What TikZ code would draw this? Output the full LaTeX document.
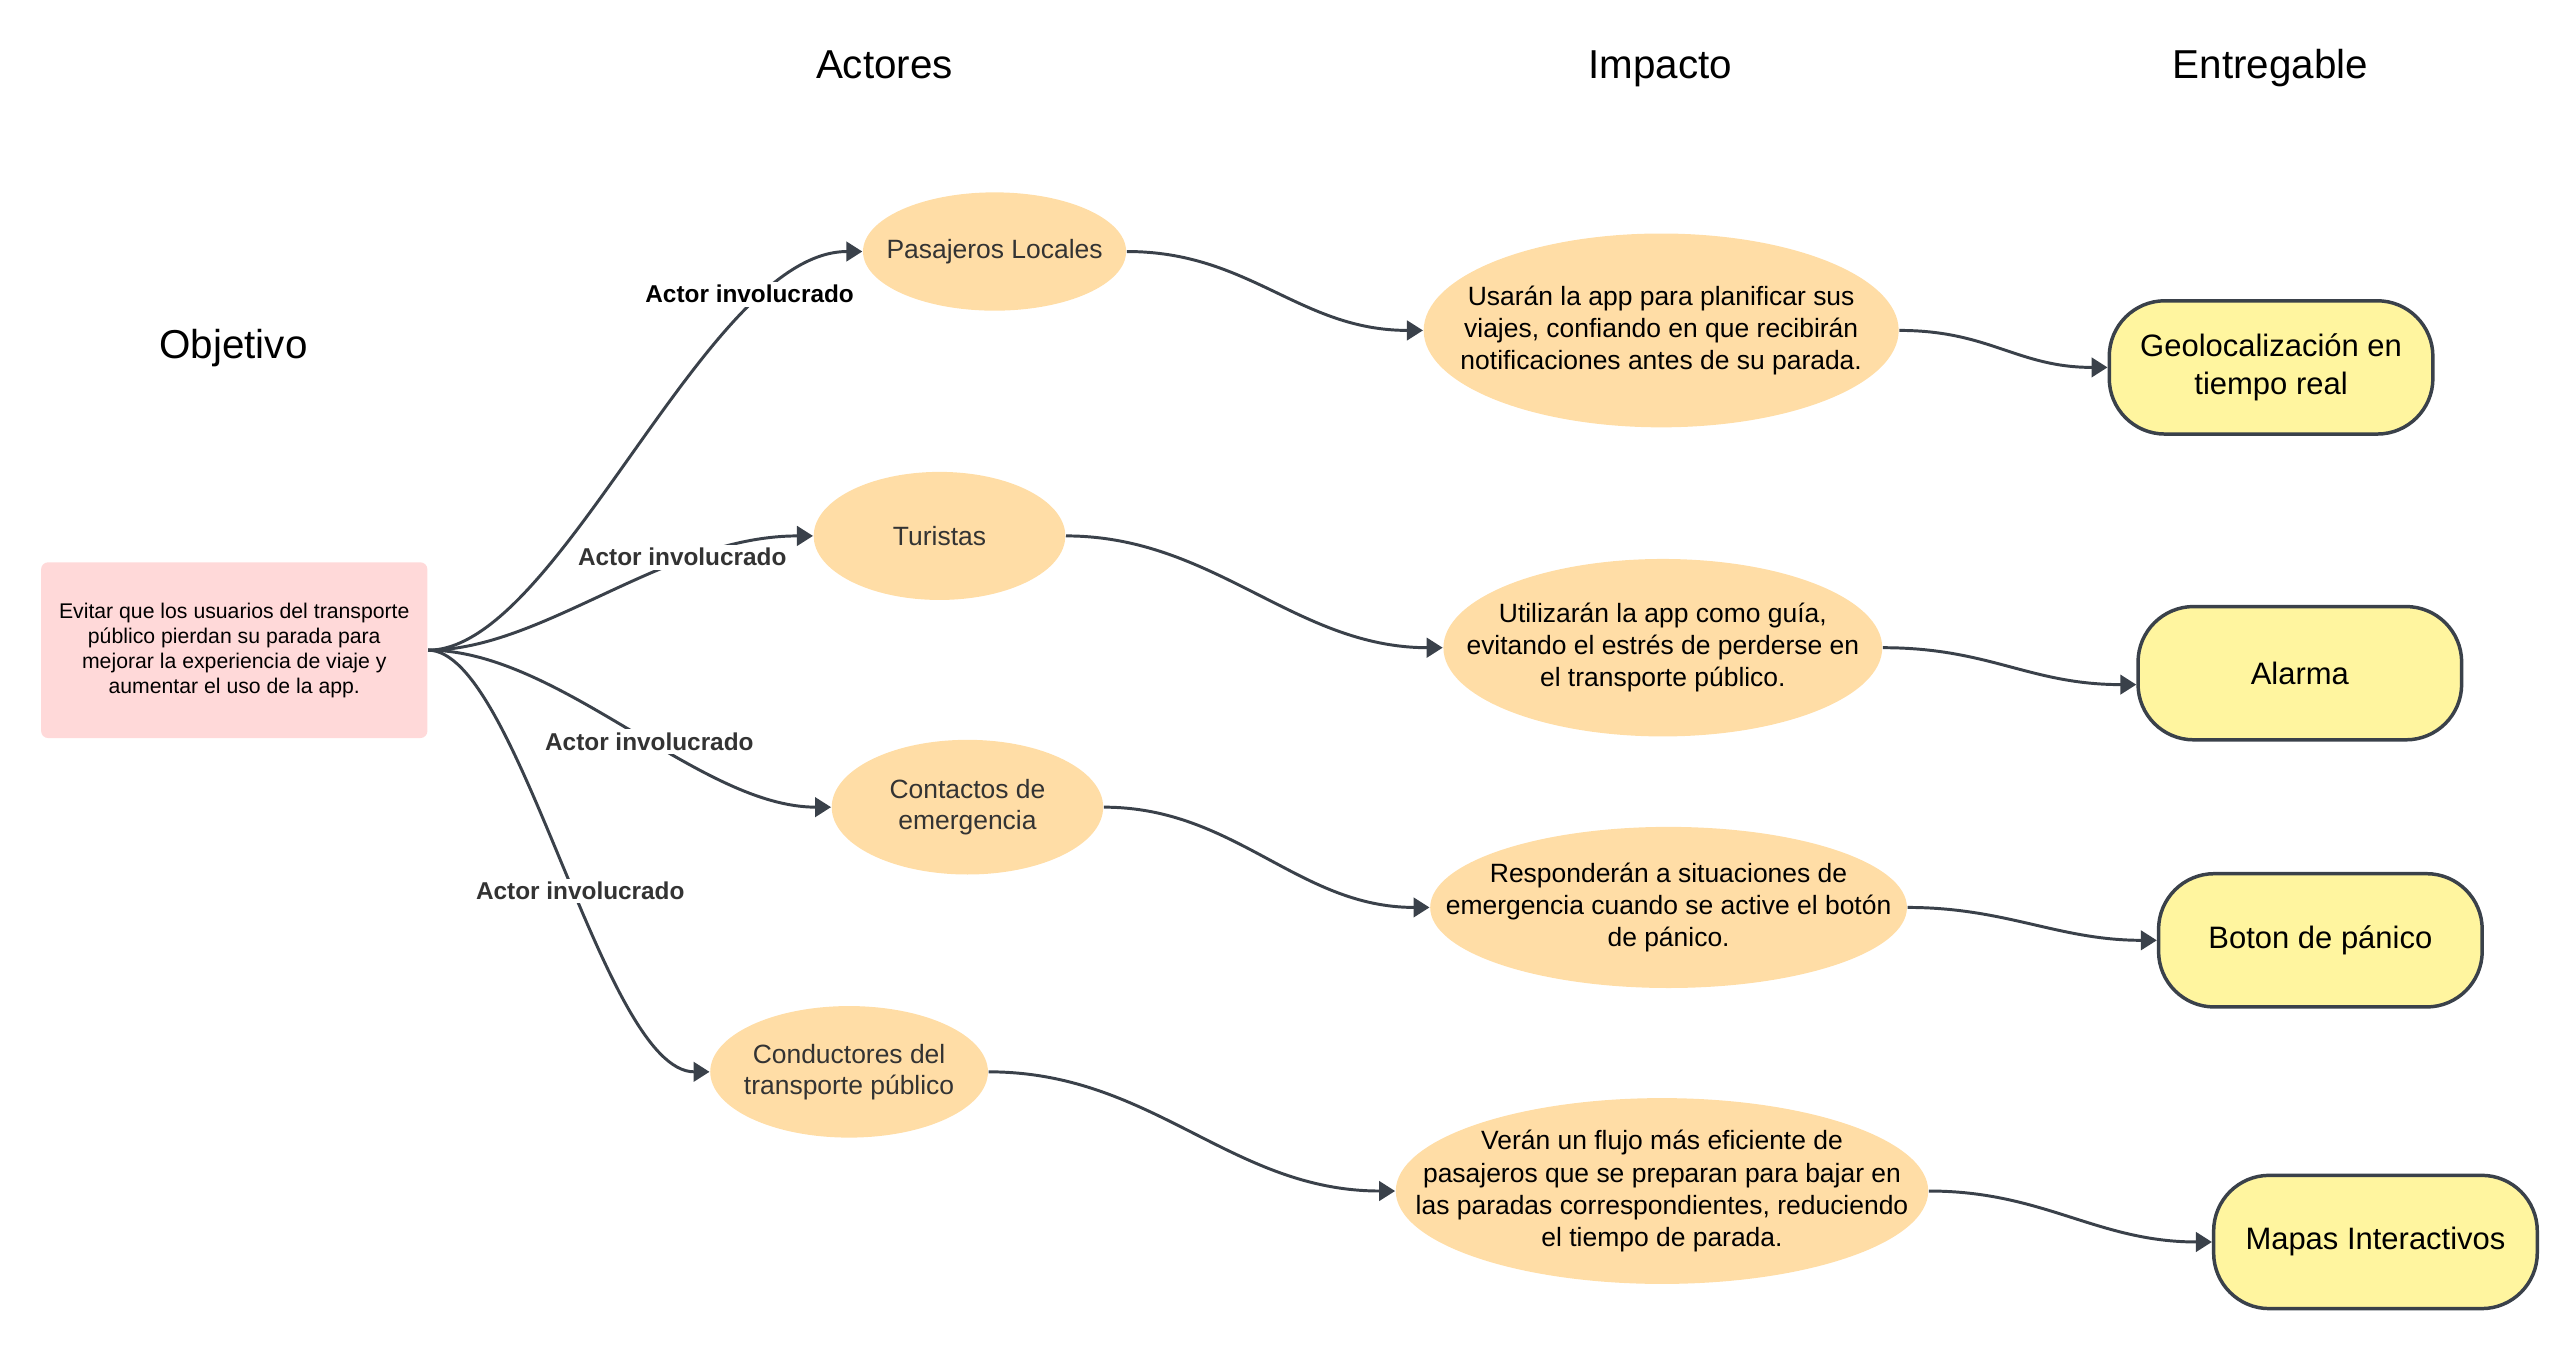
\documentclass[tikz,border=0pt]{standalone}
\usepackage{fontspec}
\setmainfont{Liberation Sans}
\usetikzlibrary{shapes.geometric,arrows.meta}

\definecolor{peach}{HTML}{FFDDA6}
\definecolor{lemon}{HTML}{FFF59F}
\definecolor{rosa}{HTML}{FFD9D9}
\definecolor{ink}{HTML}{3A414A}
\definecolor{txt}{HTML}{333333}

\begin{document}
\begin{tikzpicture}[x=0.4724pt,y=-0.4724pt,>={Triangle[length=4.6pt,width=5.6pt]},
  titulo/.style={anchor=base,font=\fontsize{11.6}{14}\selectfont},
  objetivo/.style={fill=rosa,rounded corners=2pt,minimum width=111pt,
    minimum height=50.5pt,align=center,inner sep=0pt,
    font=\fontsize{6.1}{7.2}\selectfont},
  % negative inner sep: the minimum sizes fix the ellipses
  actor/.style={ellipse,fill=peach,inner xsep=-25pt,inner ysep=-12pt,
    align=center,text=txt,font=\fontsize{7.6}{9}\selectfont},
  impacto/.style={ellipse,fill=peach,inner xsep=-25pt,inner ysep=-12pt,
    align=center,font=\fontsize{7.6}{9.2}\selectfont},
  entregable/.style={draw=ink,line width=1pt,fill=lemon,rounded corners=16pt,
    minimum width=93pt,minimum height=38.3pt,align=center,
    font=\fontsize{8.9}{10.9}\selectfont},
  lbl/.style={fill=white,inner sep=1pt,text=txt,
    font=\bfseries\fontsize{7}{8}\selectfont},
  conn/.style={->,draw=ink,line width=0.85pt}
]
  \useasboundingbox (0,0) rectangle (1567,820.6);

  % column titles (placed on their baselines)
  \node[titulo] (tObj) at (142,218) {Objetivo};
  \node[titulo] (tAct) at (538,48) {Actores};
  \node[titulo] (tImp) at (1010,48) {Impacto};
  \node[titulo] (tEnt) at (1381,48) {Entregable};

  % objective
  \node[objetivo] (obj) at (142.5,395.5) {Evitar que los usuarios del transporte\\
    público pierdan su parada para\\ mejorar la experiencia de viaje y\\
    aumentar el uso de la app.};

  % actors
  \node[actor,minimum width=75.6pt,minimum height=34pt] (a1) at (605,153)
    {Pasajeros Locales};
  \node[actor,minimum width=72.3pt,minimum height=36.8pt] (a2) at (571.5,326)
    {Turistas};
  \node[actor,minimum width=78pt,minimum height=38.7pt] (a3) at (588.5,491)
    {Contactos de\\ emergencia};
  \node[actor,minimum width=79.8pt,minimum height=37.8pt] (a4) at (516.5,652)
    {Conductores del\\ transporte público};

  % impact
  \node[impacto,minimum width=136.5pt,minimum height=55.7pt] (i1) at (1010.5,201)
    {Usarán la app para planificar sus\\ viajes, confiando en que recibirán\\
     notificaciones antes de su parada.};
  \node[impacto,minimum width=126.1pt,minimum height=51pt] (i2) at (1011.5,394)
    {Utilizarán la app como guía,\\ evitando el estrés de perderse en\\
     el transporte público.};
  \node[impacto,minimum width=137pt,minimum height=46.3pt] (i3) at (1015,552)
    {Responderán a situaciones de\\ emergencia cuando se active el botón\\
     de pánico.};
  \node[impacto,minimum width=153pt,minimum height=53.4pt] (i4) at (1011,724.5)
    {Verán un flujo más eficiente de\\ pasajeros que se preparan para bajar en\\
     las paradas correspondientes, reduciendo\\ el tiempo de parada.};

  % deliverables
  \node[entregable] (d1) at (1381.5,223.5) {Geolocalización en\\ tiempo real};
  \node[entregable] (d2) at (1399,409.5) {Alarma};
  \node[entregable] (d3) at (1411.5,572) {Boton de pánico};
  \node[entregable] (d4) at (1445,755.5) {Mapas Interactivos};

  % objective -> actors
  \draw[conn] (obj.east) .. controls +(80,0) and +(-95,0) .. (a1.west);
  \draw[conn] (obj.east) .. controls +(70,0) and +(-90,0) .. (a2.west);
  \draw[conn] (obj.east) .. controls +(80,0) and +(-80,0) .. (a3.west);
  \draw[conn] (obj.east) .. controls +(55,0) and +(-65,0) .. (a4.west);

  \node[lbl,text=black] (l1) at (456,179) {Actor involucrado};
  \node[lbl] (l2) at (415,339) {Actor involucrado};
  \node[lbl] (l3) at (395,451) {Actor involucrado};
  \node[lbl] (l4) at (353,542) {Actor involucrado};

  % actors -> impact
  \draw[conn] (a1.east) .. controls +(75,0) and +(-75,0) .. (i1.west);
  \draw[conn] (a2.east) .. controls +(90,0) and +(-90,0) .. (i2.west);
  \draw[conn] (a3.east) .. controls +(80,0) and +(-80,0) .. (i3.west);
  \draw[conn] (a4.east) .. controls +(100,0) and +(-100,0) .. (i4.west);

  % impact -> deliverables
  \draw[conn] (i1.east) .. controls +(55,0) and +(-55,0) .. (d1.west);
  \draw[conn] (i2.east) .. controls +(65,0) and +(-65,0) .. (d2.184);
  \draw[conn] (i3.east) .. controls +(60,0) and +(-60,0) .. (d3.west);
  \draw[conn] (i4.east) .. controls +(70,0) and +(-70,0) .. (d4.west);
\end{tikzpicture}
\end{document}
